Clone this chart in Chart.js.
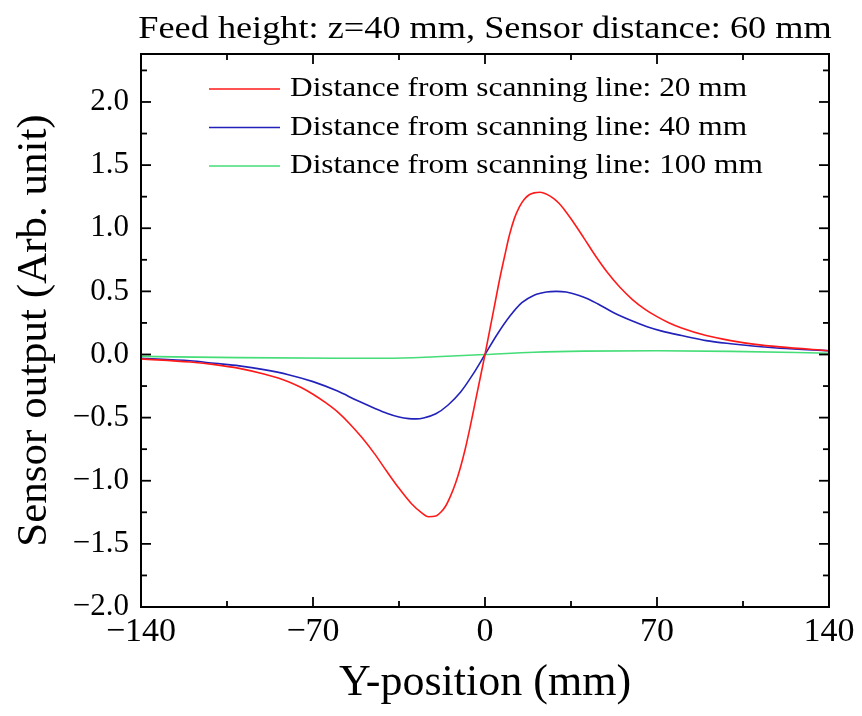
<!DOCTYPE html>
<html>
<head>
<meta charset="utf-8">
<script src="https://cdn.jsdelivr.net/npm/chart.js@4.4.1/dist/chart.umd.min.js"></script>
<style>
  body { margin: 0; background: #fff; }
</style>
</head>
<body>
<canvas id="chart" width="862" height="716"></canvas>
<script>
// Sensor output vs. Y-position
const redX  = [-140, -120, -110, -100, -90, -80, -75, -70, -65, -60, -55, -50, -45, -40, -35, -30, -26, -23, -20, -18, -16, -14, -12, -10, -8, -6, -4, -2, 0,
               2, 4, 6, 8, 10, 12, 14, 16, 18, 20, 22.5, 25, 28, 30, 32, 35, 40, 45, 50, 55, 60, 65, 70, 75, 80, 90, 100, 110, 120, 140];
const redY  = [-0.035, -0.06, -0.08, -0.11, -0.155, -0.215, -0.26, -0.315, -0.38, -0.455, -0.55, -0.66, -0.785, -0.925, -1.06, -1.18, -1.25, -1.285, -1.28, -1.25, -1.20, -1.12, -1.02, -0.895, -0.745, -0.57, -0.38, -0.19, 0,
               0.20, 0.40, 0.60, 0.78, 0.95, 1.08, 1.17, 1.23, 1.265, 1.28, 1.285, 1.27, 1.235, 1.20, 1.155, 1.075, 0.93, 0.78, 0.645, 0.53, 0.435, 0.36, 0.30, 0.25, 0.21, 0.15, 0.11, 0.08, 0.06, 0.03];

const blueX = [-140, -120, -110, -100, -90, -80, -70, -60, -52, -45, -40, -35, -31, -28, -25, -20, -15, -10, -5, 0,
               5, 10, 15, 20, 25, 29, 33, 38, 42, 46, 52, 60, 66, 72, 80, 90, 100, 110, 120, 140];
const blueY = [-0.03, -0.05, -0.07, -0.09, -0.12, -0.16, -0.215, -0.29, -0.365, -0.425, -0.465, -0.495, -0.508, -0.51, -0.503, -0.47, -0.40, -0.30, -0.16, 0,
               0.16, 0.30, 0.41, 0.47, 0.495, 0.50, 0.495, 0.47, 0.44, 0.40, 0.335, 0.265, 0.22, 0.185, 0.15, 0.11, 0.085, 0.065, 0.05, 0.03];

const greenX = [-140, -100, -60, -40, -20, 0, 20, 40, 70, 100, 140];
const greenY = [-0.015, -0.025, -0.03, -0.03, -0.018, 0, 0.018, 0.027, 0.03, 0.025, 0.01];

const seriesLabels = [
    "Distance from scanning line: 20 mm",
    "Distance from scanning line: 40 mm",
    "Distance from scanning line: 100 mm"
];
const seriesColors = ["#ff1a1a", "#2222bb", "#44dd77"];

const xMajorTicks = [-140, -70, 0, 70, 140];
const xMinorTicks = [-105, -35, 35, 105];
const yMajorTicks = [-2.0, -1.5, -1.0, -0.5, 0.0, 0.5, 1.0, 1.5, 2.0];
const yMinorTicks = [-1.75, -1.25, -0.75, -0.25, 0.25, 0.75, 1.25, 1.75, 2.25];

const titleText = "Feed height: z=40 mm, Sensor distance: 60 mm";
const serif = "'Liberation Serif', 'Times New Roman', serif";
const MINUS = "\u2212";

function toPoints(xs, ys) {
    return xs.map((x, i) => ({ x: x, y: ys[i] }));
}

// the original text is a bit wider than Liberation Serif, so stretch it horizontally
function wideText(ctx, text, x, y, sx) {
    ctx.save();
    ctx.translate(x, y);
    ctx.scale(sx, 1);
    ctx.fillText(text, 0, 0);
    ctx.restore();
}

// frame, inward ticks (major + minor), title and the in-plot legend
const framePlugin = {
    id: "frame",
    afterDraw(chart) {
        const ctx = chart.ctx;
        const a = chart.chartArea;
        const xs = chart.scales.x;
        const ys = chart.scales.y;
        ctx.save();
        ctx.strokeStyle = "#000";
        ctx.lineWidth = 2;
        ctx.strokeRect(a.left, a.top, a.right - a.left, a.bottom - a.top);

        ctx.lineWidth = 1.8;
        const seg = (x1, y1, x2, y2) => {
            ctx.beginPath();
            ctx.moveTo(x1, y1);
            ctx.lineTo(x2, y2);
            ctx.stroke();
        };
        xMajorTicks.forEach(v => {
            const p = xs.getPixelForValue(v);
            seg(p, a.bottom, p, a.bottom - 10);
            seg(p, a.top, p, a.top + 10);
        });
        xMinorTicks.forEach(v => {
            const p = xs.getPixelForValue(v);
            seg(p, a.bottom, p, a.bottom - 6);
            seg(p, a.top, p, a.top + 6);
        });
        yMajorTicks.forEach(v => {
            const p = ys.getPixelForValue(v);
            seg(a.left, p, a.left + 10, p);
            seg(a.right, p, a.right - 10, p);
        });
        yMinorTicks.forEach(v => {
            const p = ys.getPixelForValue(v);
            seg(a.left, p, a.left + 6, p);
            seg(a.right, p, a.right - 6, p);
        });

        // title above the frame
        ctx.fillStyle = "#000";
        ctx.font = "31px " + serif;
        ctx.textBaseline = "alphabetic";
        const sx = 1.17;
        const tw = ctx.measureText(titleText).width * sx;
        wideText(ctx, titleText, (a.left + a.right) / 2 - tw / 2, 38, sx);

        // legend
        ctx.font = "27.5px " + serif;
        ctx.textBaseline = "middle";
        chart.data.datasets.forEach((ds, i) => {
            const y = 89 + i * 38.5;
            ctx.strokeStyle = ds.borderColor;
            ctx.lineWidth = 1.5;
            seg(209, y, 280, y);
            wideText(ctx, ds.label, 290, y, 1.14);
        });
        ctx.restore();
    }
};

const ctx = document.getElementById("chart").getContext("2d");
const myChart = new Chart(ctx, {
    type: "line",
    data: {
        datasets: [
            { label: seriesLabels[0], data: toPoints(redX, redY), borderColor: seriesColors[0] },
            { label: seriesLabels[1], data: toPoints(blueX, blueY), borderColor: seriesColors[1] },
            { label: seriesLabels[2], data: toPoints(greenX, greenY), borderColor: seriesColors[2] }
        ]
    },
    options: {
        responsive: false,
        animation: false,
        parsing: false,
        elements: {
            line: { borderWidth: 1.6, cubicInterpolationMode: "monotone", fill: false },
            point: { radius: 0 }
        },
        layout: { padding: { left: 0, right: 33, top: 54, bottom: 0 } },
        plugins: {
            legend: { display: false },
            tooltip: { enabled: false },
            title: { display: false }
        },
        scales: {
            x: {
                type: "linear",
                min: -140,
                max: 140,
                afterFit: s => { s.height = 109; },
                afterBuildTicks: s => { s.ticks = xMajorTicks.map(v => ({ value: v })); },
                ticks: {
                    autoSkip: false,
                    maxRotation: 0,
                    padding: 5,
                    color: "#000",
                    font: { family: serif, size: 34 },
                    callback: v => (v < 0 ? MINUS : "") + Math.abs(v).toFixed(0)
                },
                grid: { display: false, drawTicks: false },
                border: { display: false },
                title: {
                    display: true,
                    text: "Y-position (mm)",
                    color: "#000",
                    font: { family: serif, size: 44 },
                    padding: { top: 0, bottom: 6 }
                }
            },
            y: {
                type: "linear",
                min: -2.0,
                max: 2.38,
                afterFit: s => { s.width = 141; },
                afterBuildTicks: s => { s.ticks = yMajorTicks.map(v => ({ value: v })); },
                ticks: {
                    padding: 12,
                    color: "#000",
                    font: { family: serif, size: 31 },
                    callback: v => (v < 0 ? MINUS : "") + Math.abs(v).toFixed(1)
                },
                grid: { display: false, drawTicks: false },
                border: { display: false },
                title: {
                    display: true,
                    text: "Sensor output (Arb. unit)",
                    color: "#000",
                    font: { family: serif, size: 43 },
                    padding: { top: 9, bottom: 0 }
                }
            }
        }
    },
    plugins: [framePlugin]
});
</script>
</body>
</html>
